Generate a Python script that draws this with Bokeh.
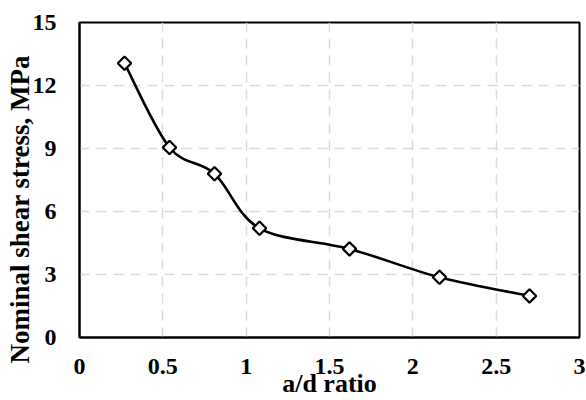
import numpy as np
from bokeh.plotting import figure
from bokeh.models import Range1d, FixedTicker, ColumnDataSource, Title
from bokeh.embed import file_html
from bokeh.resources import INLINE

# data
ad_ratio = [0.27, 0.54, 0.81, 1.08, 1.62, 2.16, 2.70]
shear_stress = [13.06, 9.05, 7.80, 5.20, 4.22, 2.87, 1.98]

x_ticks = [0, 0.5, 1, 1.5, 2, 2.5, 3]
x_tick_labels = ["0", "0.5", "1", "1.5", "2", "2.5", "3"]
y_ticks = [0, 3, 6, 9, 12, 15]
y_tick_labels = ["0", "3", "6", "9", "12", "15"]

x_title = "a/d ratio"
y_title = "Nominal shear stress, MPa"

FONT = "Liberation Serif"

p = figure(width=586, height=400, output_backend="svg", toolbar_location=None,
           x_range=Range1d(0, 3), y_range=Range1d(0, 15),
           min_border_left=79, min_border_top=22, min_border_right=7,
           min_border_bottom=63)
p.background_fill_color = "white"
p.border_fill_color = "white"
p.outline_line_color = "black"
p.outline_line_width = 2

# smoothed line (Catmull-Rom style bezier between data points, like a spreadsheet smooth line)
px = np.array(ad_ratio, dtype=float)
py = np.array(shear_stress, dtype=float)
n = len(px)
x0, y0, x1, y1, cx0, cy0, cx1, cy1 = [], [], [], [], [], [], [], []
for i in range(n - 1):
    im1 = max(i - 1, 0)
    ip2 = min(i + 2, n - 1)
    x0.append(px[i]); y0.append(py[i])
    x1.append(px[i + 1]); y1.append(py[i + 1])
    cx0.append(px[i] + (px[i + 1] - px[im1]) / 6.0)
    cy0.append(py[i] + (py[i + 1] - py[im1]) / 6.0)
    cx1.append(px[i + 1] - (px[ip2] - px[i]) / 6.0)
    cy1.append(py[i + 1] - (py[ip2] - py[i]) / 6.0)
bz = ColumnDataSource(dict(x0=x0, y0=y0, x1=x1, y1=y1, cx0=cx0, cy0=cy0, cx1=cx1, cy1=cy1))
p.bezier(x0="x0", y0="y0", x1="x1", y1="y1", cx0="cx0", cy0="cy0", cx1="cx1", cy1="cy1",
         source=bz, line_color="black", line_width=2.6)

p.scatter(ad_ratio, shear_stress, marker="square", angle=np.pi / 4, size=9.5,
          fill_color="white", line_color="black", line_width=2.2)

# grid
for g in (p.xgrid, p.ygrid):
    g.grid_line_color = "#d9d9d9"
    g.grid_line_width = 1.5
    g.grid_line_dash = "10 7"
p.xgrid.ticker = FixedTicker(ticks=x_ticks)
p.ygrid.ticker = FixedTicker(ticks=y_ticks)

# axes
for ax in (p.xaxis[0], p.yaxis[0]):
    ax.axis_line_color = "black"
    ax.axis_line_width = 2
    ax.major_tick_line_color = None
    ax.minor_tick_line_color = None
    ax.major_tick_out = 0
    ax.major_tick_in = 0
    ax.major_label_text_font = FONT
    ax.major_label_text_font_style = "bold"
    ax.major_label_text_font_size = "24px"
    ax.major_label_text_color = "black"

p.xaxis[0].ticker = FixedTicker(ticks=x_ticks)
p.xaxis[0].major_label_overrides = {t: l for t, l in zip(x_ticks, x_tick_labels)}
p.yaxis[0].ticker = FixedTicker(ticks=y_ticks)
p.yaxis[0].major_label_overrides = {t: l for t, l in zip(y_ticks, y_tick_labels)}
p.xaxis[0].major_label_standoff = 21
p.yaxis[0].major_label_standoff = 23

xa = p.xaxis[0]
xa.axis_label = x_title
xa.axis_label_text_font = FONT
xa.axis_label_text_font_style = "bold"
xa.axis_label_text_font_size = "26px"
xa.axis_label_text_color = "black"
xa.axis_label_standoff = -8

# y title starts below the frame bottom in the reference
yt = Title(text=y_title, align="left", offset=-26, standoff=-10,
           text_font=FONT, text_font_style="bold", text_font_size="27px",
           text_color="black")
p.add_layout(yt, "left")

open("out.html", "w").write(file_html(p, INLINE))
